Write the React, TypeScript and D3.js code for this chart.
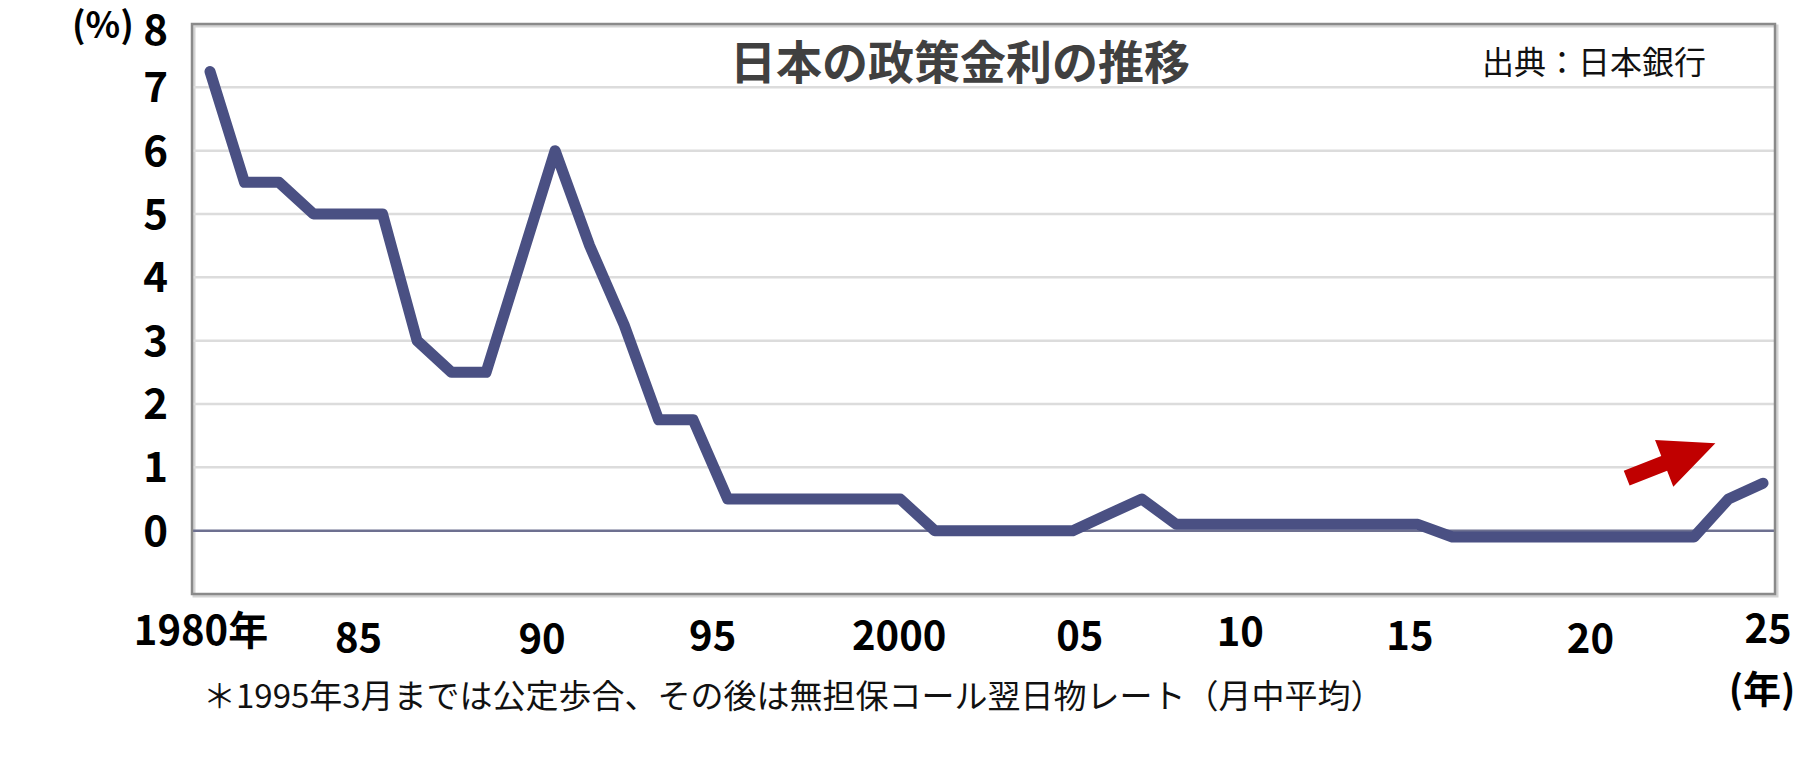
import { useMemo } from 'react';
import * as d3 from 'd3';

// Policy rate (%), one value per year
const years = d3.range(1980, 2026);
const rates = [
  7.25, 5.5, 5.5, 5.0, 5.0, 5.0, 3.0, 2.5, 2.5, 4.25,
  6.0, 4.5, 3.25, 1.75, 1.75, 0.5, 0.5, 0.5, 0.5, 0.5,
  0.5, 0.0, 0.0, 0.0, 0.0, 0.0, 0.25, 0.5, 0.1, 0.1,
  0.1, 0.1, 0.1, 0.1, 0.1, 0.1, -0.1, -0.1, -0.1, -0.1,
  -0.1, -0.1, -0.1, -0.1, 0.5, 0.75,
];

const yTicks = [0, 1, 2, 3, 4, 5, 6, 7, 8];
const gridValues = [1, 2, 3, 4, 5, 6, 7];
const xTickYears = [1980, 1985, 1990, 1995, 2000, 2005, 2010, 2015, 2020, 2025];
const xTickLabels = ['1980年', '85', '90', '95', '2000', '05', '10', '15', '20', '25'];

// red "rising" arrow annotation, in data units [year, %]
const arrowFrom: [number, number] = [2021.05, 0.83];
const arrowTo: [number, number] = [2023.62, 1.38];

const TITLE = '日本の政策金利の推移';
const SOURCE = '出典：日本銀行';
const NOTE = '＊1995年3月までは公定歩合、その後は無担保コール翌日物レート（月中平均）';

const W = 1800;
const H = 760;
const FRAME = { left: 192, right: 1775, top: 24, bottom: 594 };
const FONT = '"Noto Sans CJK JP", "Noto Sans", sans-serif';
// hand-placed feel of the original year labels (px nudges)
const LABEL_DX = [-9, -24, -13, -15, -1, 7, -5, -8, 0, 5];
const LABEL_DY = [-5, 2, 3, 0, 0, 0, -4, 0, 3, -7];

function arrowPath(x1: number, y1: number, x2: number, y2: number) {
  const dx = x2 - x1;
  const dy = y2 - y1;
  const len = Math.hypot(dx, dy);
  const ux = dx / len;
  const uy = dy / len;
  const nx = -uy;
  const ny = ux;
  const headLen = 55;
  const headHalf = 25;
  const shaftHalf = 8;
  const bx = x2 - ux * headLen;
  const by = y2 - uy * headLen;
  const pts: [number, number][] = [
    [x1 + nx * shaftHalf, y1 + ny * shaftHalf],
    [bx + nx * shaftHalf, by + ny * shaftHalf],
    [bx + nx * headHalf, by + ny * headHalf],
    [x2, y2],
    [bx - nx * headHalf, by - ny * headHalf],
    [bx - nx * shaftHalf, by - ny * shaftHalf],
    [x1 - nx * shaftHalf, y1 - ny * shaftHalf],
  ];
  return 'M' + pts.map((p) => p.join(',')).join('L') + 'Z';
}

export default function App() {
  const x = useMemo(
    () => d3.scaleLinear().domain([1980, 2025]).range([210, 1763]),
    []
  );
  const y = useMemo(
    () => d3.scaleLinear().domain([-1, 8]).range([FRAME.bottom, FRAME.top]),
    []
  );

  const linePath = d3
    .line<number>()
    .x((_, i) => x(years[i]))
    .y((d) => y(d))(rates) as string;

  const arrow = arrowPath(
    x(arrowFrom[0]),
    y(arrowFrom[1]),
    x(arrowTo[0]),
    y(arrowTo[1])
  );

  return (
    <svg
      width={W}
      height={H}
      style={{ position: 'fixed', left: 0, top: 0, background: '#fff' }}
      fontFamily={FONT}
    >
      <rect width={W} height={H} fill="#fff" />

      {/* frame shadow */}
      <rect
        x={FRAME.left + 2}
        y={FRAME.top + 2}
        width={FRAME.right - FRAME.left}
        height={FRAME.bottom - FRAME.top}
        fill="none"
        stroke="#d4d4d4"
        strokeWidth={3}
      />

      {/* gridlines */}
      {gridValues.map((v) => (
        <line
          key={v}
          x1={FRAME.left}
          x2={FRAME.right}
          y1={y(v)}
          y2={y(v)}
          stroke="#dcdcdc"
          strokeWidth={2.5}
        />
      ))}
      <line
        x1={FRAME.left}
        x2={FRAME.right}
        y1={y(0)}
        y2={y(0)}
        stroke="#6d7090"
        strokeWidth={2.5}
      />

      <rect
        x={FRAME.left}
        y={FRAME.top}
        width={FRAME.right - FRAME.left}
        height={FRAME.bottom - FRAME.top}
        fill="none"
        stroke="#8a8a8a"
        strokeWidth={2.5}
      />

      {/* title and source */}
      <text
        x={960}
        y={79}
        textAnchor="middle"
        fontSize={46}
        fontWeight={700}
        fill="#404040"
      >
        {TITLE}
      </text>
      <text x={1482} y={74} fontSize={32} fill="#111">
        {SOURCE}
      </text>

      {/* rate line */}
      <path
        d={linePath}
        fill="none"
        stroke="#4a5083"
        strokeWidth={11}
        strokeLinejoin="round"
        strokeLinecap="round"
      />

      {/* arrow */}
      <path d={arrow} fill="#c00000" />

      {/* y axis labels */}
      <text x={72} y={38} fontSize={36} fontWeight={700} fill="#000">
        (%)
      </text>
      {yTicks.map((v) => (
        <text
          key={v}
          x={168}
          y={y(v) + (v === 8 ? 21 : 15)}
          textAnchor="end"
          fontSize={42}
          fontWeight={700}
          fill="#000"
        >
          {v}
        </text>
      ))}

      {/* x axis labels */}
      {xTickYears.map((yr, i) => (
        <text
          key={yr}
          x={x(yr) + LABEL_DX[i]}
          y={650 + LABEL_DY[i]}
          textAnchor="middle"
          fontSize={40}
          fontWeight={700}
          fill="#000"
        >
          {xTickLabels[i]}
        </text>
      ))}
      <text
        x={1762}
        y={703}
        textAnchor="middle"
        fontSize={38}
        fontWeight={700}
        fill="#000"
      >
        (年)
      </text>

      {/* footnote */}
      <text x={203} y={708} fontSize={33} fill="#111">
        {NOTE}
      </text>
    </svg>
  );
}
